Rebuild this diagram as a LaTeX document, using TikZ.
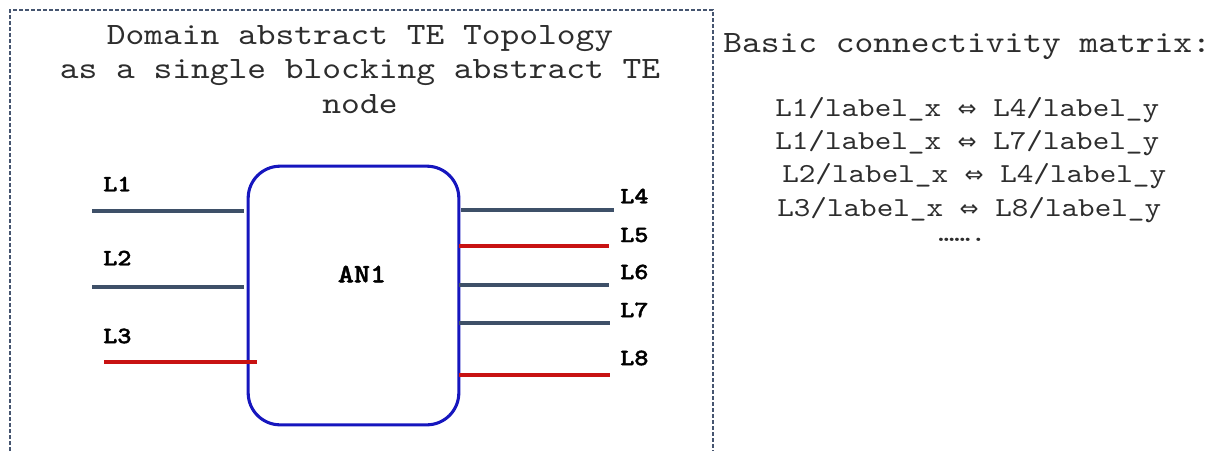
\documentclass[tikz,border=0pt]{standalone}
\usepackage{fontspec}
\newfontfamily\cour{lmmono10-regular}[Extension=.otf, FakeStretch=1.15, BoldFont=lmmonolt10-bold, BoldFeatures={FakeBold=1.6}]
\newfontfamily\arrowf{DejaVu Sans}
\definecolor{lnkgray}{RGB}{62,80,104}
\definecolor{lnkred}{RGB}{200,18,18}
\definecolor{anblue}{RGB}{22,22,190}
\definecolor{framec}{RGB}{70,85,112}
\definecolor{txt}{RGB}{45,45,45}
\newcommand{\eqv}{{\arrowf\fontsize{17}{17}\selectfont ⇔}}
\begin{document}
\begin{tikzpicture}[x=0.75pt,y=-0.75pt,
  frame/.style={draw=framec, line width=0.9pt, dash pattern=on 3pt off 1.5pt},
  anbox/.style={draw=anblue, line width=2.3pt, rounded corners=24pt, minimum width=158pt, minimum height=194pt, inner sep=0pt},
  grayln/.style={draw=lnkgray, line width=2.3pt},
  redln/.style={draw=lnkred, line width=2.3pt},
  title/.style={font=\fontsize{23.3}{26}\selectfont\cour, text=txt, align=center},
  mtx/.style={font=\fontsize{20.6}{24}\selectfont\cour, text=txt, anchor=west, inner sep=0pt},
  lab/.style={font=\fontsize{17.5}{20}\selectfont\cour\bfseries, text=black, anchor=west, inner sep=0pt}]
\useasboundingbox (0,0) rectangle (1209,451);
% dashed frame
\coordinate (fbl) at (10,451);
\coordinate (ftl) at (10,10);
\coordinate (ftr) at (713,10);
\coordinate (fbr) at (713,451);
\draw[frame] (fbl) -- (ftl) -- (ftr) -- (fbr);
% title
\node[title] (ttl) at (360,69.5) {Domain abstract TE Topology\\as a single blocking abstract TE\\node};
% matrix
\node[mtx, font=\fontsize{23.3}{26}\selectfont\cour] (mh) at (723,47) {Basic connectivity matrix:};
\node[mtx] (m1) at (775,110) {L1/label\_x \eqv{} L4/label\_y};
\node[mtx] (m2) at (775,143) {L1/label\_x \eqv{} L7/label\_y};
\node[mtx] (m3) at (782,176) {L2/label\_x \eqv{} L4/label\_y};
\node[mtx] (m4) at (777,210) {L3/label\_x \eqv{} L8/label\_y};
\node[mtx, font=\fontsize{20}{22}\selectfont\cour] (m5) at (938,240) {…….};
% abstract node
\node[anbox] (AN1) at (353.5,295.5) {};
\node[font=\fontsize{20}{22}\selectfont\cour\bfseries] (an1t) at (362,274) {AN1};
% left links
\coordinate (a1) at (92,211);  \coordinate (b1) at (244,211);
\coordinate (a2) at (92,287);  \coordinate (b2) at (244,287);
\coordinate (a3) at (104,362); \coordinate (b3) at (257,362);
\draw[grayln] (a1) -- (b1);
\draw[grayln] (a2) -- (b2);
\draw[redln] (a3) -- (b3);
\node[lab] (L1) at (103,184) {L1};
\node[lab] (L2) at (103,258) {L2};
\node[lab] (L3) at (103,336) {L3};
% right links
\coordinate (a4) at (461,210); \coordinate (b4) at (614,210);
\coordinate (a5) at (459,246); \coordinate (b5) at (609,246);
\coordinate (a6) at (459,285); \coordinate (b6) at (609,285);
\coordinate (a7) at (459,323); \coordinate (b7) at (610,323);
\coordinate (a8) at (459,375); \coordinate (b8) at (610,375);
\draw[grayln] (a4) -- (b4);
\draw[redln] (a5) -- (b5);
\draw[grayln] (a6) -- (b6);
\draw[grayln] (a7) -- (b7);
\draw[redln] (a8) -- (b8);
\node[lab] (L4) at (620,196) {L4};
\node[lab] (L5) at (620,235) {L5};
\node[lab] (L6) at (620,272) {L6};
\node[lab] (L7) at (620,310) {L7};
\node[lab] (L8) at (620,358) {L8};
\end{tikzpicture}
\end{document}
